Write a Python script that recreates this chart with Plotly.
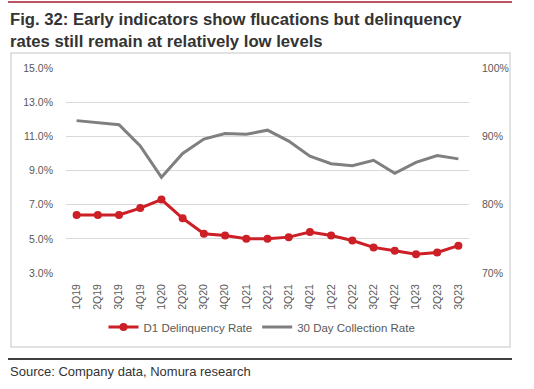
import plotly.graph_objects as go

quarters = ["1Q19","2Q19","3Q19","4Q19","1Q20","2Q20","3Q20","4Q20","1Q21","2Q21",
            "3Q21","4Q21","1Q22","2Q22","3Q22","4Q22","1Q23","2Q23","3Q23"]
d1_delinquency = [6.4, 6.4, 6.4, 6.8, 7.3, 6.2, 5.3, 5.2, 5.0, 5.0,
                  5.1, 5.4, 5.2, 4.9, 4.5, 4.3, 4.1, 4.2, 4.6]
collection_30d = [92.3, 92.0, 91.7, 88.6, 84.0, 87.5, 89.6, 90.4, 90.3, 90.9,
                  89.3, 87.1, 86.0, 85.7, 86.5, 84.6, 86.2, 87.2, 86.7]
left_ticks = [3, 5, 7, 9, 11, 13, 15]
right_ticks = [70, 80, 90, 100]

W, H = 534, 389
L, R, T, B = 66, 469, 68, 273

def px(x):
    return (x - L) / (R - L)

def py(y):
    return (B - y) / (B - T)

fig = go.Figure()
fig.add_trace(go.Scatter(
    x=quarters, y=d1_delinquency, name="D1 Delinquency Rate",
    mode="lines+markers", line=dict(color="#CC1F26", width=3),
    marker=dict(size=8, color="#CC1F26"), yaxis="y"))
fig.add_trace(go.Scatter(
    x=quarters, y=collection_30d, name="30 Day Collection Rate",
    mode="lines", line=dict(color="#7F7F7F", width=3), yaxis="y2"))

tickfont = dict(family="Liberation Sans, Arial", size=10.5, color="#595959")

fig.update_layout(
    width=W, height=H,
    margin=dict(l=L, r=W - R, t=T, b=H - B),
    paper_bgcolor="white", plot_bgcolor="white",
    showlegend=True,
    legend=dict(orientation="h", x=px(262), y=py(327), xanchor="center", yanchor="middle",
                font=dict(family="Liberation Sans, Arial", size=11.5, color="#595959"),
                itemwidth=30, tracegroupgap=0),
    xaxis=dict(type="category", range=[-0.5, len(quarters) - 0.5], tickangle=-90,
               tickfont=tickfont, showgrid=False, showline=False, ticks="",
               zeroline=False, ticklabelstandoff=8),
    yaxis=dict(range=[3, 15], tickvals=left_ticks,
               ticktext=[f"{v:.1f}%" for v in left_ticks], tickfont=tickfont,
               gridcolor="#D9D9D9", gridwidth=1, zeroline=False, ticks="",
               ticklabelstandoff=12),
    yaxis2=dict(range=[70, 100], tickvals=right_ticks,
                ticktext=[f"{v}%" for v in right_ticks], tickfont=tickfont,
                overlaying="y", side="right", showgrid=False, zeroline=False,
                ticks="", ticklabelstandoff=12),
    shapes=[
        dict(type="line", xref="paper", yref="paper", x0=px(8), x1=px(512), y0=py(2), y1=py(2),
             line=dict(color="#A51C30", width=1.5)),
        dict(type="rect", xref="paper", yref="paper", x0=px(11), x1=px(510), y0=py(53), y1=py(347),
             line=dict(color="#D9D9D9", width=1.5), layer="below"),
        dict(type="line", xref="paper", yref="paper", x0=px(8), x1=px(512), y0=py(359), y1=py(359),
             line=dict(color="#000000", width=1.5)),
    ],
    annotations=[
        dict(text="<b>Fig. 32: Early indicators show flucations but delinquency<br>rates still remain at relatively low levels</b>",
             xref="paper", yref="paper", x=px(8), y=py(8), xanchor="left", yanchor="top",
             showarrow=False, align="left",
             font=dict(family="Liberation Sans, Arial", size=16.7, color="#333333")),
        dict(text="Source: Company data, Nomura research",
             xref="paper", yref="paper", x=px(8), y=py(371), xanchor="left", yanchor="middle",
             showarrow=False, font=dict(family="Liberation Sans, Arial", size=13, color="#333333")),
    ],
)

fig.write_html("out.html", config={"displayModeBar": False},
               post_script="document.body.style.margin='0';")
